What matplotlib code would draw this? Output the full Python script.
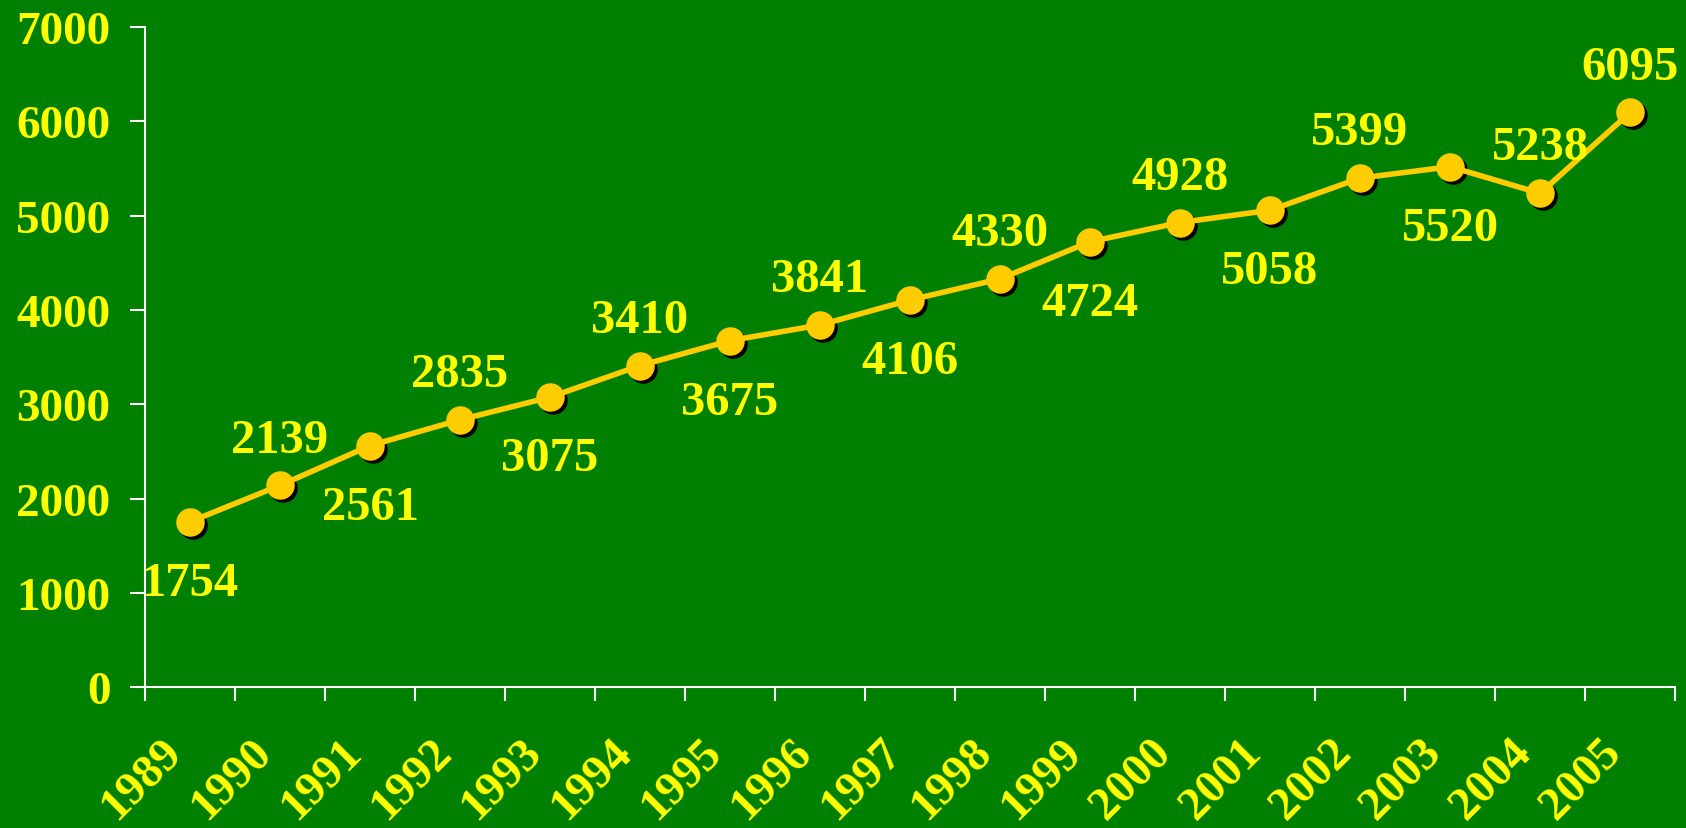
import numpy as np
import matplotlib.pyplot as plt
import matplotlib.transforms as mtransforms

years = ['1989', '1990', '1991', '1992', '1993', '1994', '1995', '1996', '1997',
         '1998', '1999', '2000', '2001', '2002', '2003', '2004', '2005']
values = [1754, 2139, 2561, 2835, 3075, 3410, 3675, 3841, 4106,
          4330, 4724, 4928, 5058, 5399, 5520, 5238, 6095]
yticks = [0, 1000, 2000, 3000, 4000, 5000, 6000, 7000]

bg = '#008000'
gold = '#FFCC00'
yellow = '#FFFF00'

plt.rcParams['font.family'] = ['Liberation Serif', 'DejaVu Serif']
plt.rcParams['font.weight'] = 'bold'

fig = plt.figure(figsize=(16.86, 8.29), dpi=100, facecolor=bg)
ax = fig.add_axes([0.086, 0.170, 0.9075, 0.796])
ax.set_facecolor(bg)

x = np.arange(len(years))

# black shadow under markers
shadow = mtransforms.offset_copy(ax.transData, fig=fig, x=3, y=-3, units='dots')
ax.plot(x, values, 'o', color='black', markersize=19.5, transform=shadow, zorder=2)
ax.plot(x, values, '-', color=gold, linewidth=4, zorder=3)
ax.plot(x, values, 'o', color=gold, markersize=19.5, zorder=4)

for i, v in enumerate(values):
    # alternate labels below / above, last one goes above too
    above = (i % 2 == 1) or years[i] == '2005'
    dy = 33 if above else -44
    ax.annotate(str(v), (x[i], v), xytext=(0, dy), textcoords='offset points',
                ha='center', va='center', color=yellow, fontsize=35,
                fontweight='bold', zorder=5)

ax.set_xlim(-0.5, len(years) - 0.5)
ax.set_ylim(0, 7000)
ax.set_yticks(yticks)
ax.set_yticklabels([str(t) for t in yticks])
ax.set_xticks(np.arange(-0.5, len(years), 1.0))
ax.set_xticklabels([])
ax.set_xticks(x, minor=True)
ax.set_xticklabels(years, minor=True, rotation=45, ha='right', va='center',
                   rotation_mode='anchor')

ax.tick_params(axis='y', colors='white', labelcolor=yellow, labelsize=34,
               length=11, width=1.5, direction='out', pad=14)
ax.tick_params(axis='x', which='major', colors='white', length=10, width=1.5,
               direction='out')
ax.tick_params(axis='x', which='minor', length=0, labelcolor=yellow,
               labelsize=34, pad=42)
shift = mtransforms.ScaledTranslation(-15 / 100, 0, fig.dpi_scale_trans)
for lab in ax.get_xticklabels(minor=True):
    lab.set_transform(lab.get_transform() + shift)
for lab in ax.get_xticklabels(minor=True) + ax.get_yticklabels():
    lab.set_fontweight('bold')

for s in ['top', 'right']:
    ax.spines[s].set_visible(False)
for s in ['left', 'bottom']:
    ax.spines[s].set_color('white')
    ax.spines[s].set_linewidth(1.5)

fig.savefig('out.png', dpi=100, facecolor=bg)
